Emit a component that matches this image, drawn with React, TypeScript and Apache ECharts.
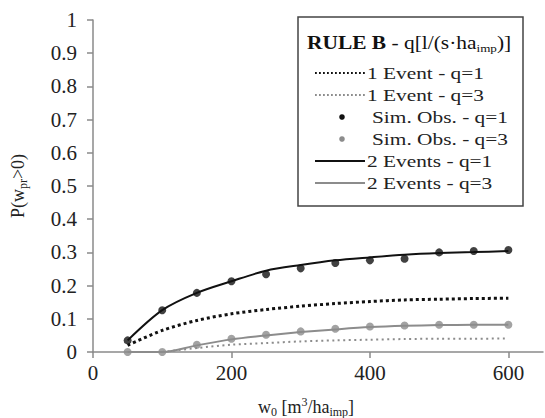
import React, { useEffect, useRef } from 'react';
import * as echarts from 'echarts';

const wValues = [50, 100, 150, 200, 250, 300, 350, 400, 450, 500, 550, 600];
const oneEventQ1 = [0.02, 0.065, 0.095, 0.115, 0.128, 0.138, 0.146, 0.152, 0.157, 0.159, 0.161, 0.162];
const oneEventQ3 = [null, 0, 0.012, 0.022, 0.027, 0.032, 0.035, 0.037, 0.039, 0.04, 0.04, 0.041];
const simObsQ1 = [0.035, 0.126, 0.178, 0.213, 0.234, 0.252, 0.268, 0.276, 0.281, 0.3, 0.304, 0.307];
const simObsQ3 = [0, 0, 0.022, 0.04, 0.052, 0.062, 0.07, 0.077, 0.08, 0.082, 0.082, 0.082];
const twoEventsQ1 = [0.035, 0.126, 0.178, 0.213, 0.245, 0.262, 0.276, 0.285, 0.293, 0.298, 0.301, 0.304];
const twoEventsQ3 = [0, 0, 0.02, 0.038, 0.05, 0.06, 0.068, 0.075, 0.079, 0.081, 0.082, 0.082];
const xTicks = [0, 200, 400, 600];
const seriesNames = [
  '1 Event - q=1',
  '1 Event - q=3',
  'Sim. Obs. - q=1',
  'Sim. Obs. - q=3',
  '2 Events - q=1',
  '2 Events - q=3',
];

const FONT = "'Liberation Serif', 'Times New Roman', serif";
const BLACK = '#111111';
const GREY = '#8c8c8c';
const TEXT = '#222222';

const pairs = (vals: (number | null)[]) =>
  wValues.map((w, i) => [w, vals[i]]).filter((p) => p[1] !== null);

type Kind = 'dot' | 'marker' | 'solid';
const legendKinds: { kind: Kind; color: string }[] = [
  { kind: 'dot', color: BLACK },
  { kind: 'dot', color: GREY },
  { kind: 'marker', color: BLACK },
  { kind: 'marker', color: GREY },
  { kind: 'solid', color: BLACK },
  { kind: 'solid', color: GREY },
];

function buildLegend() {
  const els: any[] = [
    {
      type: 'rect',
      shape: { x: 298, y: 17, width: 225, height: 189 },
      style: { fill: '#fff', stroke: '#444', lineWidth: 1.5 },
      silent: true,
      z: 10,
    },
    {
      type: 'text',
      x: 307,
      y: 43,
      scaleX: 1.19,
      z: 11,
      style: {
        text: '{b|RULE B}{n| - q[l/(s·ha}{s|imp}{n|)]}',
        verticalAlign: 'middle',
        rich: {
          b: { fontSize: 18, fontWeight: 'bold', lineHeight: 22, fontFamily: FONT, fill: '#111' },
          n: { fontSize: 18, lineHeight: 22, fontFamily: FONT, fill: '#111' },
          s: { fontSize: 11, lineHeight: 10, verticalAlign: 'bottom', fontFamily: FONT, fill: '#111' },
        },
      },
      silent: true,
    },
  ];
  seriesNames.forEach((name, i) => {
    const y = 73 + 22 * i;
    const k = legendKinds[i];
    if (k.kind === 'marker') {
      els.push({
        type: 'circle',
        shape: { cx: 342, cy: y, r: 2.8 },
        style: { fill: k.color },
        z: 11,
        silent: true,
      });
    } else {
      els.push({
        type: 'line',
        shape: { x1: 315, y1: y, x2: 365, y2: y },
        style: {
          stroke: k.color,
          lineWidth: k.kind === 'dot' ? 2 : 1.8,
          lineDash: k.kind === 'dot' ? [1.8, 2.2] : null,
        },
        z: 11,
        silent: true,
      });
    }
    els.push({
      type: 'text',
      x: k.kind === 'marker' ? 372 : 367,
      y,
      scaleX: 1.22,
      z: 11,
      style: {
        text: name,
        fontSize: 17.5,
        fontFamily: FONT,
        fill: TEXT,
        verticalAlign: 'middle',
      },
      silent: true,
    });
  });
  return els;
}

export default function App() {
  const ref = useRef<HTMLDivElement>(null);
  useEffect(() => {
    if (!ref.current) return;
    const chart = echarts.init(ref.current, undefined, { renderer: 'svg' });
    chart.setOption({
      animation: false,
      backgroundColor: '#ffffff',
      textStyle: { fontFamily: FONT },
      grid: { left: 93, right: 2, top: 20, bottom: 66, containLabel: false, outerBoundsMode: 'none' },
      xAxis: {
        type: 'value',
        min: 0,
        max: 650,
        interval: 200,
        splitLine: { show: false },
        axisLine: { lineStyle: { color: '#8a8a8a', width: 1.5 } },
        axisTick: { show: true, length: 6, customValues: xTicks, lineStyle: { color: '#8a8a8a', width: 1.5 } },
        axisLabel: { customValues: xTicks, margin: 10, fontSize: 21, color: TEXT, fontFamily: FONT },
        name: '{n|w}{s|0}{n| [m}{p|3}{n|/ha}{s|imp}{n|]}',
        nameLocation: 'middle',
        nameGap: 44,
        nameTextStyle: {
          fontFamily: FONT,
          color: TEXT,
          padding: [0, 24, 0, 0],
          rich: {
            n: { fontSize: 18, lineHeight: 22, fontFamily: FONT, color: TEXT },
            s: { fontSize: 12, lineHeight: 10, verticalAlign: 'bottom', fontFamily: FONT, color: TEXT },
            p: { fontSize: 12, lineHeight: 12, verticalAlign: 'top', fontFamily: FONT, color: TEXT },
          },
        },
      },
      yAxis: {
        type: 'value',
        min: 0,
        max: 1,
        interval: 0.1,
        splitLine: { show: false },
        axisLine: { show: true, lineStyle: { color: '#8a8a8a', width: 1.5 } },
        axisTick: { show: true, length: 6, lineStyle: { color: '#8a8a8a', width: 1.5 } },
        axisLabel: { margin: 16, fontSize: 21, color: TEXT, fontFamily: FONT },
        name: '{n|P(w}{s|pr}{n|>0)}',
        nameLocation: 'middle',
        nameRotate: 90,
        nameGap: 64,
        nameTextStyle: {
          fontFamily: FONT,
          color: TEXT,
          rich: {
            n: { fontSize: 18, lineHeight: 22, fontFamily: FONT, color: TEXT },
            s: { fontSize: 12, lineHeight: 10, verticalAlign: 'bottom', fontFamily: FONT, color: TEXT },
          },
        },
      },
      graphic: buildLegend(),
      series: [
        {
          name: seriesNames[0],
          type: 'line',
          data: pairs(oneEventQ1),
          smooth: 0.3,
          symbol: 'none',
          showSymbol: false,
          lineStyle: { color: BLACK, width: 3, type: [3, 3] },
          itemStyle: { color: BLACK },
          z: 2,
        },
        {
          name: seriesNames[1],
          type: 'line',
          data: pairs(oneEventQ3),
          smooth: 0.3,
          symbol: 'none',
          showSymbol: false,
          lineStyle: { color: GREY, width: 2, type: [2, 3.5] },
          itemStyle: { color: GREY },
          z: 2,
        },
        {
          name: seriesNames[4],
          type: 'line',
          data: pairs(twoEventsQ1),
          smooth: 0.3,
          symbol: 'none',
          showSymbol: false,
          lineStyle: { color: BLACK, width: 2 },
          itemStyle: { color: BLACK },
          z: 2,
        },
        {
          name: seriesNames[5],
          type: 'line',
          data: pairs(twoEventsQ3),
          smooth: 0.3,
          symbol: 'none',
          showSymbol: false,
          lineStyle: { color: GREY, width: 2 },
          itemStyle: { color: GREY },
          z: 2,
        },
        {
          name: seriesNames[2],
          type: 'scatter',
          data: pairs(simObsQ1),
          symbol: 'circle',
          symbolSize: 8,
          itemStyle: { color: BLACK },
          z: 3,
        },
        {
          name: seriesNames[3],
          type: 'scatter',
          data: pairs(simObsQ3),
          symbol: 'circle',
          symbolSize: 8,
          itemStyle: { color: GREY },
          z: 3,
        },
      ],
    });
    return () => chart.dispose();
  }, []);
  return <div ref={ref} style={{ position: 'fixed', left: 0, top: 0, width: 545, height: 418 }} />;
}
